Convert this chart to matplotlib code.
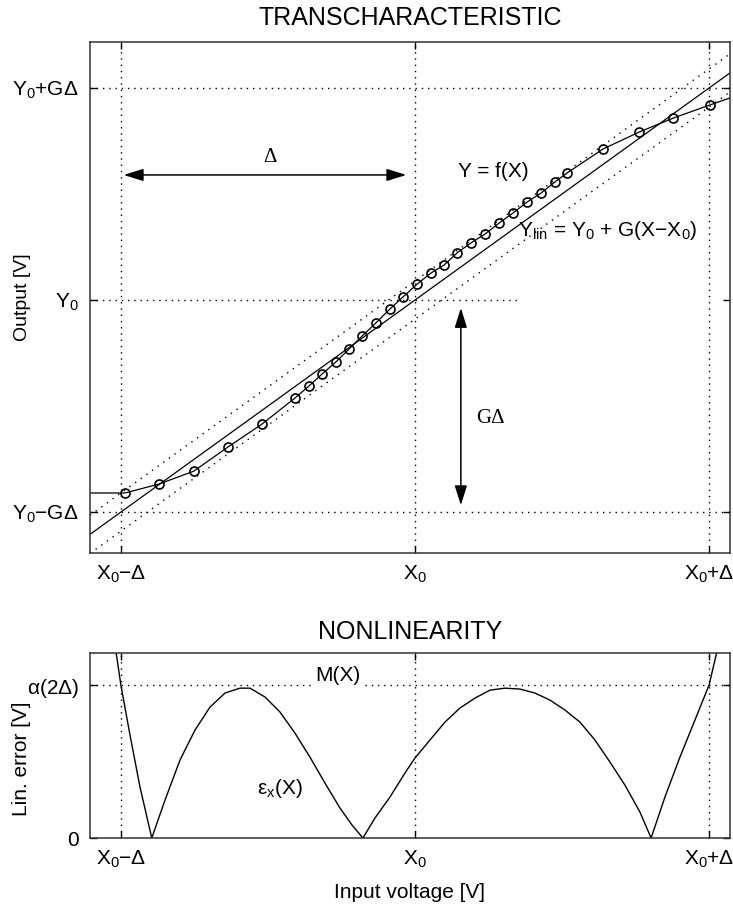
import numpy as np
import matplotlib.pyplot as plt

plt.rcParams['font.family'] = ['Liberation Sans', 'DejaVu Sans']
plt.rcParams['mathtext.fontset'] = 'custom'
plt.rcParams['mathtext.rm'] = 'Liberation Sans'
plt.rcParams['mathtext.it'] = 'Liberation Sans:italic'
plt.rcParams['font.size'] = 15

# unites : X0 = 0, Delta = 1, Y0 = 0, G*Delta = 1
x0, delta, y0, g = 0.0, 1.0, 0.0, 1.0
band = 0.09  # demi-largeur des droites pointillees autour de Ylin

# Y = f(X) (points mesures)
fx = [-1.105, -0.986, -0.871, -0.752, -0.636, -0.520, -0.408, -0.361, -0.316,
      -0.269, -0.224, -0.180, -0.133, -0.085, -0.041, 0.007, 0.054, 0.099,
      0.143, 0.190, 0.238, 0.286, 0.333, 0.381, 0.429, 0.476, 0.517, 0.639,
      0.762, 0.878, 1.003, 1.071]
fy = [-0.910, -0.910, -0.868, -0.807, -0.693, -0.585, -0.462, -0.406, -0.349,
      -0.292, -0.231, -0.170, -0.108, -0.042, 0.014, 0.075, 0.127, 0.165,
      0.222, 0.269, 0.311, 0.363, 0.410, 0.462, 0.505, 0.557, 0.599, 0.712,
      0.792, 0.858, 0.920, 0.953]

# erreur de linearite eps_x(X)
ex = [-1.020, -1.000, -0.969, -0.935, -0.895, -0.850, -0.799, -0.748, -0.697,
      -0.646, -0.595, -0.561, -0.510, -0.459, -0.408, -0.357, -0.306, -0.255,
      -0.214, -0.177, -0.136, -0.085, -0.034, 0.000, 0.051, 0.102, 0.153,
      0.204, 0.255, 0.306, 0.357, 0.408, 0.459, 0.510, 0.561, 0.612, 0.663,
      0.714, 0.765, 0.803, 0.850, 0.901, 0.952, 1.000, 1.024, 1.031]
ey = [1.261, 1.000, 0.673, 0.333, 0.000, 0.248, 0.510, 0.706, 0.856,
      0.948, 0.980, 0.980, 0.922, 0.824, 0.686, 0.529, 0.359, 0.196,
      0.085, 0.000, 0.131, 0.268, 0.425, 0.523, 0.641, 0.758, 0.850,
      0.915, 0.967, 0.980, 0.974, 0.948, 0.902, 0.837, 0.758, 0.641, 0.497,
      0.346, 0.170, 0.000, 0.268, 0.529, 0.771, 1.000, 1.196, 1.261]

xticks = [x0 - delta, x0, x0 + delta]
xlabels = [r'$\mathregular{X_0{-}\Delta}$', r'$\mathregular{X_0}$', r'$\mathregular{X_0{+}\Delta}$']
yticks = [y0 - g * delta, y0, y0 + g * delta]
ylabels = [r'$\mathregular{Y_0{-}G\Delta}$', r'$\mathregular{Y_0}$', r'$\mathregular{Y_0{+}G\Delta}$']
eticks = [0, 1]
elabels = ['0', r'$\mathregular{\alpha(2\Delta)}$']

dot = (0, (1, 3.5))
xlim = (-1.105, 1.071)

fig = plt.figure(figsize=(7.33, 9.13), dpi=100)
ax = fig.add_axes([0.1228, 0.3943, 0.873, 0.5597])
ax2 = fig.add_axes([0.1228, 0.0821, 0.873, 0.2027])

for a in (ax, ax2):
    a.set_xlim(*xlim)
    a.tick_params(direction='in', length=5, width=1, top=True, right=True, pad=8)
    for s in a.spines.values():
        s.set_linewidth(1.1)
        s.set_color('#333333')
    a.set_xticks(xticks)
    a.set_xticklabels(xlabels)
    for xv in xticks:
        a.axvline(xv, color='k', lw=1, ls=dot, zorder=1)

# --- transcaracteristique
ax.set_ylim(-1.193, 1.217)
ax.set_yticks(yticks)
ax.set_yticklabels(ylabels)
ax.axhline(yticks[0], color='k', lw=1, ls=dot, zorder=1)
ax.axhline(yticks[2], color='k', lw=1, ls=dot, zorder=1)
ax.plot([xlim[0], 0.35], [y0, y0], color='k', lw=1, ls=dot, zorder=1)

lx = np.array(xlim)
ly = y0 + g * (lx - x0)
ax.plot(lx, ly, color='k', lw=0.9)
ax.plot(lx, ly + band, color='k', lw=1, ls=(0, (1, 4)))
ax.plot(lx, ly - band, color='k', lw=1, ls=(0, (1, 4)))
ax.plot(fx, fy, color='k', lw=0.9, marker='o', ms=6.5, mfc='none', mec='k',
        mew=1.2, markevery=slice(1, len(fx) - 1))

ax.annotate('', xy=(-1.0, 0.59), xytext=(-0.02, 0.59),
            arrowprops=dict(arrowstyle='<|-|>,head_length=0.8,head_width=0.25', color='k', lw=1.1))
ax.text(-0.493, 0.67, 'Δ', family='Liberation Serif', ha='center', va='center')
ax.annotate('', xy=(0.156, -0.024), xytext=(0.156, -0.981),
            arrowprops=dict(arrowstyle='<|-|>,head_length=0.8,head_width=0.25', color='k', lw=1.1))
ax.text(0.255, -0.557, 'GΔ', family='Liberation Serif', ha='center', va='center')
ax.text(0.146, 0.604, 'Y = f(X)', ha='left', va='center')
ax.text(0.35, 0.33, r'$\mathregular{Y_{lin}}$ = $\mathregular{Y_0}$ + G(X$\mathregular{{-}X_0}$)',
        ha='left', va='center')
ax.set_ylabel('Output [V]', fontsize=14)
ax.yaxis.set_label_coords(-0.093, 0.5)
ax.set_title('TRANSCHARACTERISTIC', pad=12)

# --- non-linearite
ax2.set_ylim(0, 1.21)
ax2.set_yticks(eticks)
ax2.set_yticklabels(elabels)
ax2.axhline(1, color='k', lw=1, ls=dot, zorder=1)
ax2.plot(ex, ey, color='k', lw=1)
ax2.text(-0.262, 1.06, 'M(X)', ha='center', va='center',
         bbox=dict(facecolor='white', edgecolor='none', pad=1), zorder=3)
ax2.text(-0.459, 0.327, r'$\mathregular{\varepsilon_x(X)}$', ha='center', va='center')
ax2.set_ylabel('Lin. error [V]')
ax2.yaxis.set_label_coords(-0.093, 0.43)
ax2.set_xlabel('Input voltage [V]')
ax2.xaxis.set_label_coords(0.5, -0.243)
ax2.set_title('NONLINEARITY', pad=10)

fig.savefig('out.png', dpi=100)
